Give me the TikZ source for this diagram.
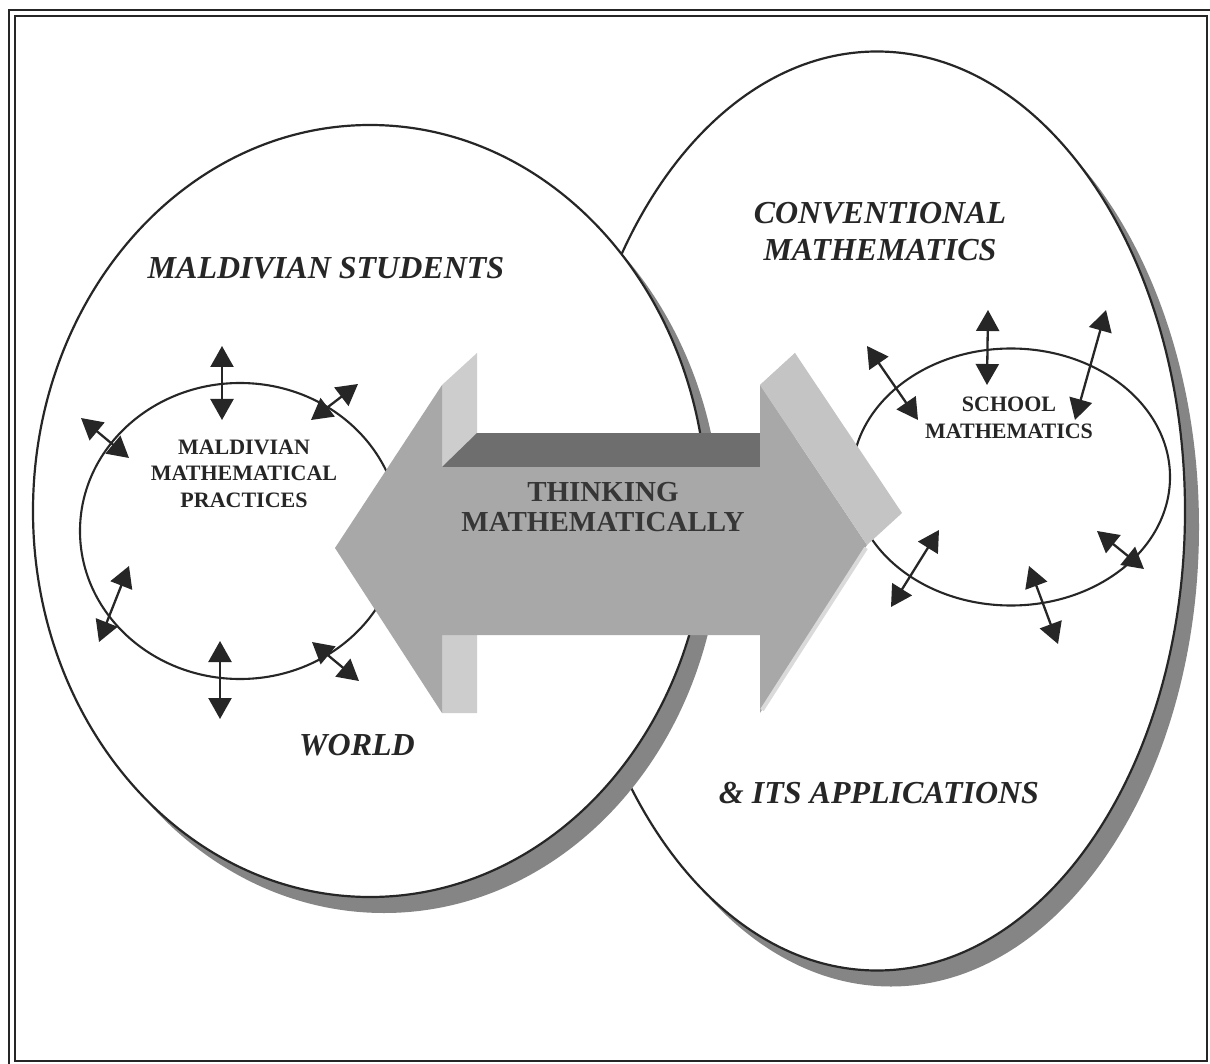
\documentclass[tikz,border=0pt]{standalone}
\usepackage{fontspec}
\setmainfont{Liberation Serif}
\usetikzlibrary{shapes.geometric,shadows,arrows.meta}

\definecolor{ink}{HTML}{262626}
\definecolor{shade}{HTML}{858585}
\definecolor{facemid}{HTML}{A8A8A8}
\definecolor{facetop}{HTML}{6E6E6E}
\definecolor{facelight}{HTML}{CDCDCD}
\definecolor{faceside}{HTML}{C4C4C4}
\definecolor{bevel}{HTML}{DADADA}
\definecolor{arrowtext}{HTML}{363636}

\tikzset{
  frameline/.style={draw=ink, line width=1.7pt},
  oval/.style={ellipse, draw=ink, line width=2.2pt, fill=white, inner sep=0pt,
    drop shadow={shadow xshift=14pt, shadow yshift=-16pt, fill=shade, opacity=1}},
  smalloval/.style={ellipse, draw=ink, line width=2.1pt, inner sep=0pt},
  twoway/.style={{Triangle[length=21pt,width=23pt]}-{Triangle[length=21pt,width=23pt]},
    draw=ink, fill=ink, line width=2.3pt},
  biglabel/.style={font=\fontsize{32}{37}\selectfont\bfseries\itshape, text=ink,
    inner sep=0pt, align=center},
  smalllabel/.style={font=\fontsize{22}{26.5}\selectfont\bfseries, text=ink,
    inner sep=0pt, align=center},
  arrowlabel/.style={font=\fontsize{29}{30}\selectfont\bfseries, text=arrowtext,
    inner sep=0pt, align=center}
}

\begin{document}
\begin{tikzpicture}[x=1pt,y=-1pt]
\useasboundingbox (0,0) rectangle (1210,1064);
\fill[white] (0,0) rectangle (1210,1064);

% double page frame
\draw[frameline] (9,10) rectangle (1214,1068);
\draw[frameline] (15,16) rectangle (1207,1061);

% the two large regions, each with its drop shadow
\node[oval, minimum width=616pt, minimum height=919pt] (conv) at (877,511) {};
\node[oval, minimum width=674pt, minimum height=772pt] (world) at (370,511) {};

% inner regions
\node[smalloval, minimum width=320pt, minimum height=296pt] (practices) at (240,531) {};
\node[smalloval, minimum width=318pt, minimum height=257pt] (school) at (1011,477) {};

% two-way exchanges around the practices
\draw[twoway] (222,346) -- (222,420);
\draw[twoway] (358,384) -- (311,420);
\draw[twoway] (81,418) -- (129,458);
\draw[twoway] (129,566) -- (99,642);
\draw[twoway] (220,641) -- (220,719);
\draw[twoway] (312,642) -- (359,681);

% two-way exchanges around school mathematics
\draw[twoway] (988,310) -- (987,385);
\draw[twoway] (867,346) -- (918,420);
\draw[twoway] (1106,310) -- (1075,420);
\draw[twoway] (939,530) -- (891,607);
\draw[twoway] (1029,566) -- (1058,644);
\draw[twoway] (1097,531) -- (1144,569);

% three-dimensional double arrow
\fill[facelight] (442,385) -- (477,353) -- (477,713) -- (442,713) -- cycle;
\fill[facelight] (760,385) -- (795,353) -- (795,467) -- (760,467) -- cycle;
\fill[facetop] (442,467) -- (477,433) -- (760,433) -- (760,467) -- cycle;
\fill[facemid] (335,548) -- (442,385) -- (442,467) -- (760,467) -- (760,385)
  -- (867,545) -- (760,713) -- (760,635) -- (442,635) -- (442,713) -- cycle;
\fill[faceside] (760,385) -- (795,353) -- (902,513) -- (867,545) -- cycle;
\draw[bevel, line width=4pt] (866,548) -- (762,710);

% labels
\node[biglabel] (students) at (326,268) {MALDIVIAN STUDENTS};
\node[biglabel] (conventional) at (880,231.5) {CONVENTIONAL\\MATHEMATICS};
\node[biglabel] (worldlabel) at (357,745) {WORLD};
\node[biglabel] (applications) at (879,793) {\& ITS APPLICATIONS};
\node[smalllabel] (practiceslabel) at (244,473.5) {MALDIVIAN\\MATHEMATICAL\\PRACTICES};
\node[smalllabel] (schoollabel) at (1009,418) {SCHOOL\\MATHEMATICS};
\node[arrowlabel] (thinking) at (603,507) {THINKING\\MATHEMATICALLY};
\end{tikzpicture}
\end{document}
